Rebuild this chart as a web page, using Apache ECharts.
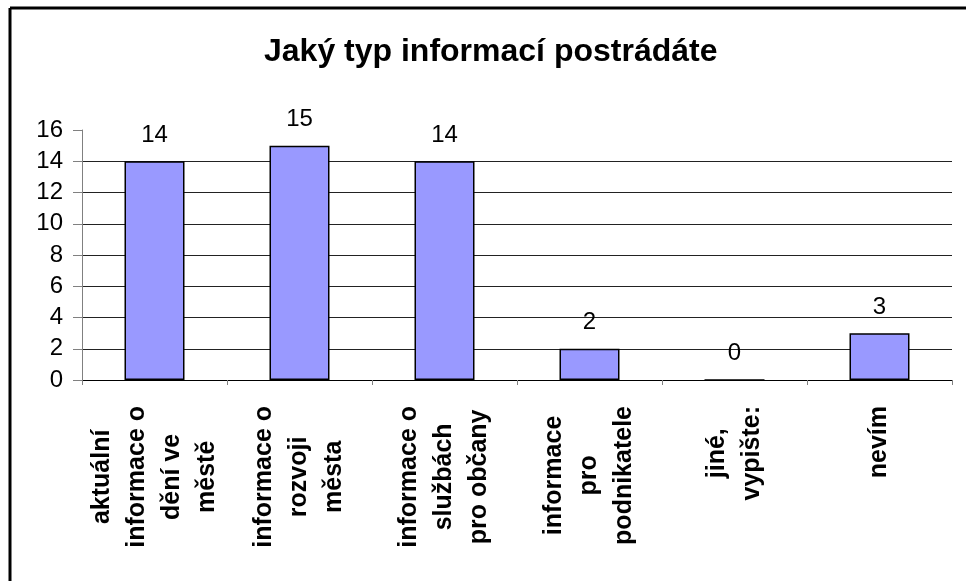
<!DOCTYPE html>
<html>
	<head>
		<meta http-equiv="Content-Type" content="text/html;charset=utf-8" />
		<title>Jaký typ informací postrádáte</title>
		<script src="https://cdn.jsdelivr.net/npm/echarts@6/dist/echarts.min.js"></script>
		<style>
			html, body {
				margin: 0;
				padding: 0;
				background: #fff;
			}
			#container {
				width: 966px;
				height: 581px;
			}
		</style>
	</head>
	<body>
		<div id="container"></div>
		<script type="text/javascript">
			var titleText = 'Jaký typ informací postrádáte';
			var categories = [
				'aktuální\ninformace o\ndění ve\nměstě',
				'informace o\nrozvoji\nměsta',
				'informace o\nslužbách\npro občany',
				'informace\npro\npodnikatele',
				'jiné,\nvypište:',
				'nevím'
			];
			var values = [14, 15, 14, 2, 0, 3];
			var yMin = 0;
			var yMax = 16;
			var yStep = 2;

			var font = 'Liberation Sans, Arial, sans-serif';
			var myChart = echarts.init(document.getElementById('container'));

			var option = {
				backgroundColor: '#fff',
				animation: false,
				title: {
					text: titleText,
					left: 264,
					top: 36,
					padding: 0,
					textStyle: {
						fontFamily: font,
						fontSize: 32,
						fontWeight: 'bold',
						color: '#000'
					}
				},
				graphic: [
					{
						type: 'line',
						shape: { x1: 10, y1: 8, x2: 966, y2: 8 },
						style: { stroke: '#000', lineWidth: 3 }
					},
					{
						type: 'line',
						shape: { x1: 10, y1: 8, x2: 10, y2: 581 },
						style: { stroke: '#000', lineWidth: 3 }
					}
				],
				grid: {
					left: 82,
					right: 14,
					top: 130,
					bottom: 201,
					containLabel: false
				},
				xAxis: {
					type: 'category',
					data: categories,
					axisLine: {
						lineStyle: { color: '#000', width: 1 }
					},
					axisTick: {
						show: true,
						length: 5,
						lineStyle: { color: '#808080' }
					},
					axisLabel: {
						rotate: 90,
						margin: 26,
						interval: 0,
						formatter: function (v) {
							return v.split('\n').map(function (s) {
								return '{c|' + s + '}';
							}).join('\n');
						},
						rich: {
							c: {
								align: 'center',
								fontFamily: font,
								fontSize: 25,
								fontWeight: 'bold',
								lineHeight: 35,
								color: '#000'
							}
						}
					}
				},
				yAxis: {
					type: 'value',
					min: yMin,
					max: yMax,
					interval: yStep,
					axisLine: {
						show: true,
						lineStyle: { color: '#808080', width: 1 }
					},
					axisTick: {
						show: true,
						length: 9,
						lineStyle: { color: '#808080' }
					},
					axisLabel: {
						margin: 19,
						fontFamily: font,
						fontSize: 24,
						color: '#000'
					},
					splitLine: {
						show: true,
						showMaxLine: false,
						lineStyle: { color: '#222', width: 1 }
					}
				},
				series: [{
					type: 'bar',
					data: values,
					barWidth: 60,
					itemStyle: {
						color: '#9999FF',
						borderColor: '#000',
						borderWidth: 1.5
					},
					label: {
						show: true,
						position: 'top',
						distance: 14,
						fontFamily: font,
						fontSize: 24,
						color: '#000'
					}
				}]
			};

			myChart.setOption(option);
		</script>
	</body>
</html>
